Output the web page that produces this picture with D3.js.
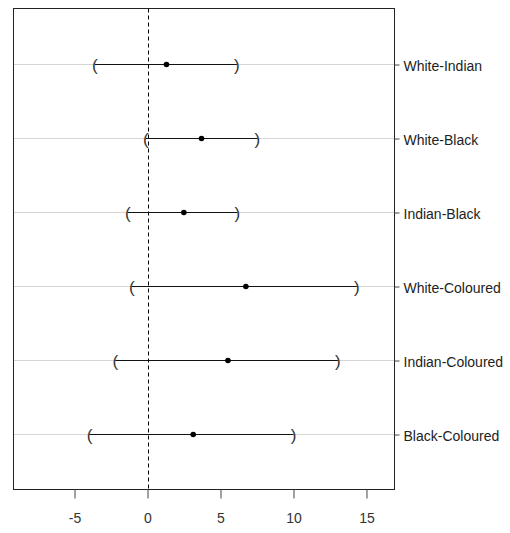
<!DOCTYPE html>
<html>
<head>
<meta charset="utf-8">
<script src="https://cdn.jsdelivr.net/npm/d3@7"></script>
<style>
  body { margin: 0; background: #fff; }
  text { font-family: "Liberation Sans", Arial, sans-serif; }
</style>
</head>
<body>
<script>
var pairs = ["White-Indian", "White-Black", "Indian-Black", "White-Coloured", "Indian-Coloured", "Black-Coloured"];
var estimates = [1.30, 3.70, 2.49, 6.74, 5.51, 3.13];
var lower = [-3.6, -0.12, -1.34, -1.07, -2.21, -3.97];
var upper = [6.12, 7.53, 6.16, 14.34, 13.04, 10.0];
var xTicks = [-5, 0, 5, 10, 15];

var width = 510, height = 533;
var plotLeft = 13.5, plotRight = 394.5, plotTop = 8.5, plotBottom = 489.5;

var svg = d3.select("body")
  .append("svg")
  .attr("width", width)
  .attr("height", height);

var x = d3.scaleLinear().domain([-9.18, 16.92]).range([plotLeft, plotRight]);
var y = d3.scaleLinear().domain([0.25, 6.75]).range([plotTop, plotBottom]);

// grid lines for each pair
svg.append("g").selectAll("line")
  .data(pairs)
  .enter().append("line")
  .attr("x1", plotLeft).attr("x2", plotRight)
  .attr("y1", function (d, i) { return Math.round(y(i + 1)) + 0.5; })
  .attr("y2", function (d, i) { return Math.round(y(i + 1)) + 0.5; })
  .attr("stroke", "#d6d6d6")
  .attr("stroke-width", 1);

// zero reference
svg.append("line")
  .attr("x1", Math.round(x(0)) + 0.5).attr("x2", Math.round(x(0)) + 0.5)
  .attr("y1", plotTop).attr("y2", plotBottom)
  .attr("stroke", "#000")
  .attr("stroke-width", 1)
  .attr("stroke-dasharray", "4,3");

var rows = svg.append("g").selectAll("g")
  .data(pairs)
  .enter().append("g")
  .attr("transform", function (d, i) { return "translate(0," + (Math.round(y(i + 1)) + 0.5) + ")"; });

rows.append("line")
  .attr("x1", function (d, i) { return x(lower[i]); })
  .attr("x2", function (d, i) { return x(upper[i]); })
  .attr("stroke", "#111")
  .attr("stroke-width", 1);

rows.append("text")
  .attr("x", function (d, i) { return x(lower[i]); })
  .attr("y", 6)
  .attr("text-anchor", "middle")
  .attr("font-size", 17)
  .attr("fill", "#333")
  .text("(");

rows.append("text")
  .attr("x", function (d, i) { return x(upper[i]); })
  .attr("y", 6)
  .attr("text-anchor", "middle")
  .attr("font-size", 17)
  .attr("fill", "#333")
  .text(")");

rows.append("circle")
  .attr("cx", function (d, i) { return x(estimates[i]); })
  .attr("cy", 0)
  .attr("r", 2.8)
  .attr("fill", "#000");

// frame
svg.append("rect")
  .attr("x", plotLeft).attr("y", plotTop)
  .attr("width", plotRight - plotLeft).attr("height", plotBottom - plotTop)
  .attr("fill", "none")
  .attr("stroke", "#222")
  .attr("stroke-width", 1);

// bottom axis
var xAxis = svg.append("g")
  .attr("transform", "translate(0," + plotBottom + ")")
  .call(d3.axisBottom(x).tickValues(xTicks).tickSize(9).tickPadding(15)
    .tickFormat(function (d) { return String(d); }));
xAxis.select(".domain").remove();
xAxis.selectAll("line").attr("stroke", "#444");
xAxis.selectAll("text").attr("font-size", 14).attr("fill", "#333")
  .style("font-family", "'Liberation Sans', Arial, sans-serif");

// right axis with pair names
var yAxis = svg.append("g")
  .attr("transform", "translate(" + plotRight + ",0.5)")
  .call(d3.axisRight(y).tickValues([1, 2, 3, 4, 5, 6]).tickSize(5).tickPadding(4)
    .tickFormat(function (d) { return pairs[d - 1]; }));
yAxis.select(".domain").remove();
yAxis.selectAll("line").attr("stroke", "#444");
yAxis.selectAll("text").attr("font-size", 14).attr("fill", "#222").attr("dy", "0.4em")
  .style("font-family", "'Liberation Sans', Arial, sans-serif");
</script>
</body>
</html>
